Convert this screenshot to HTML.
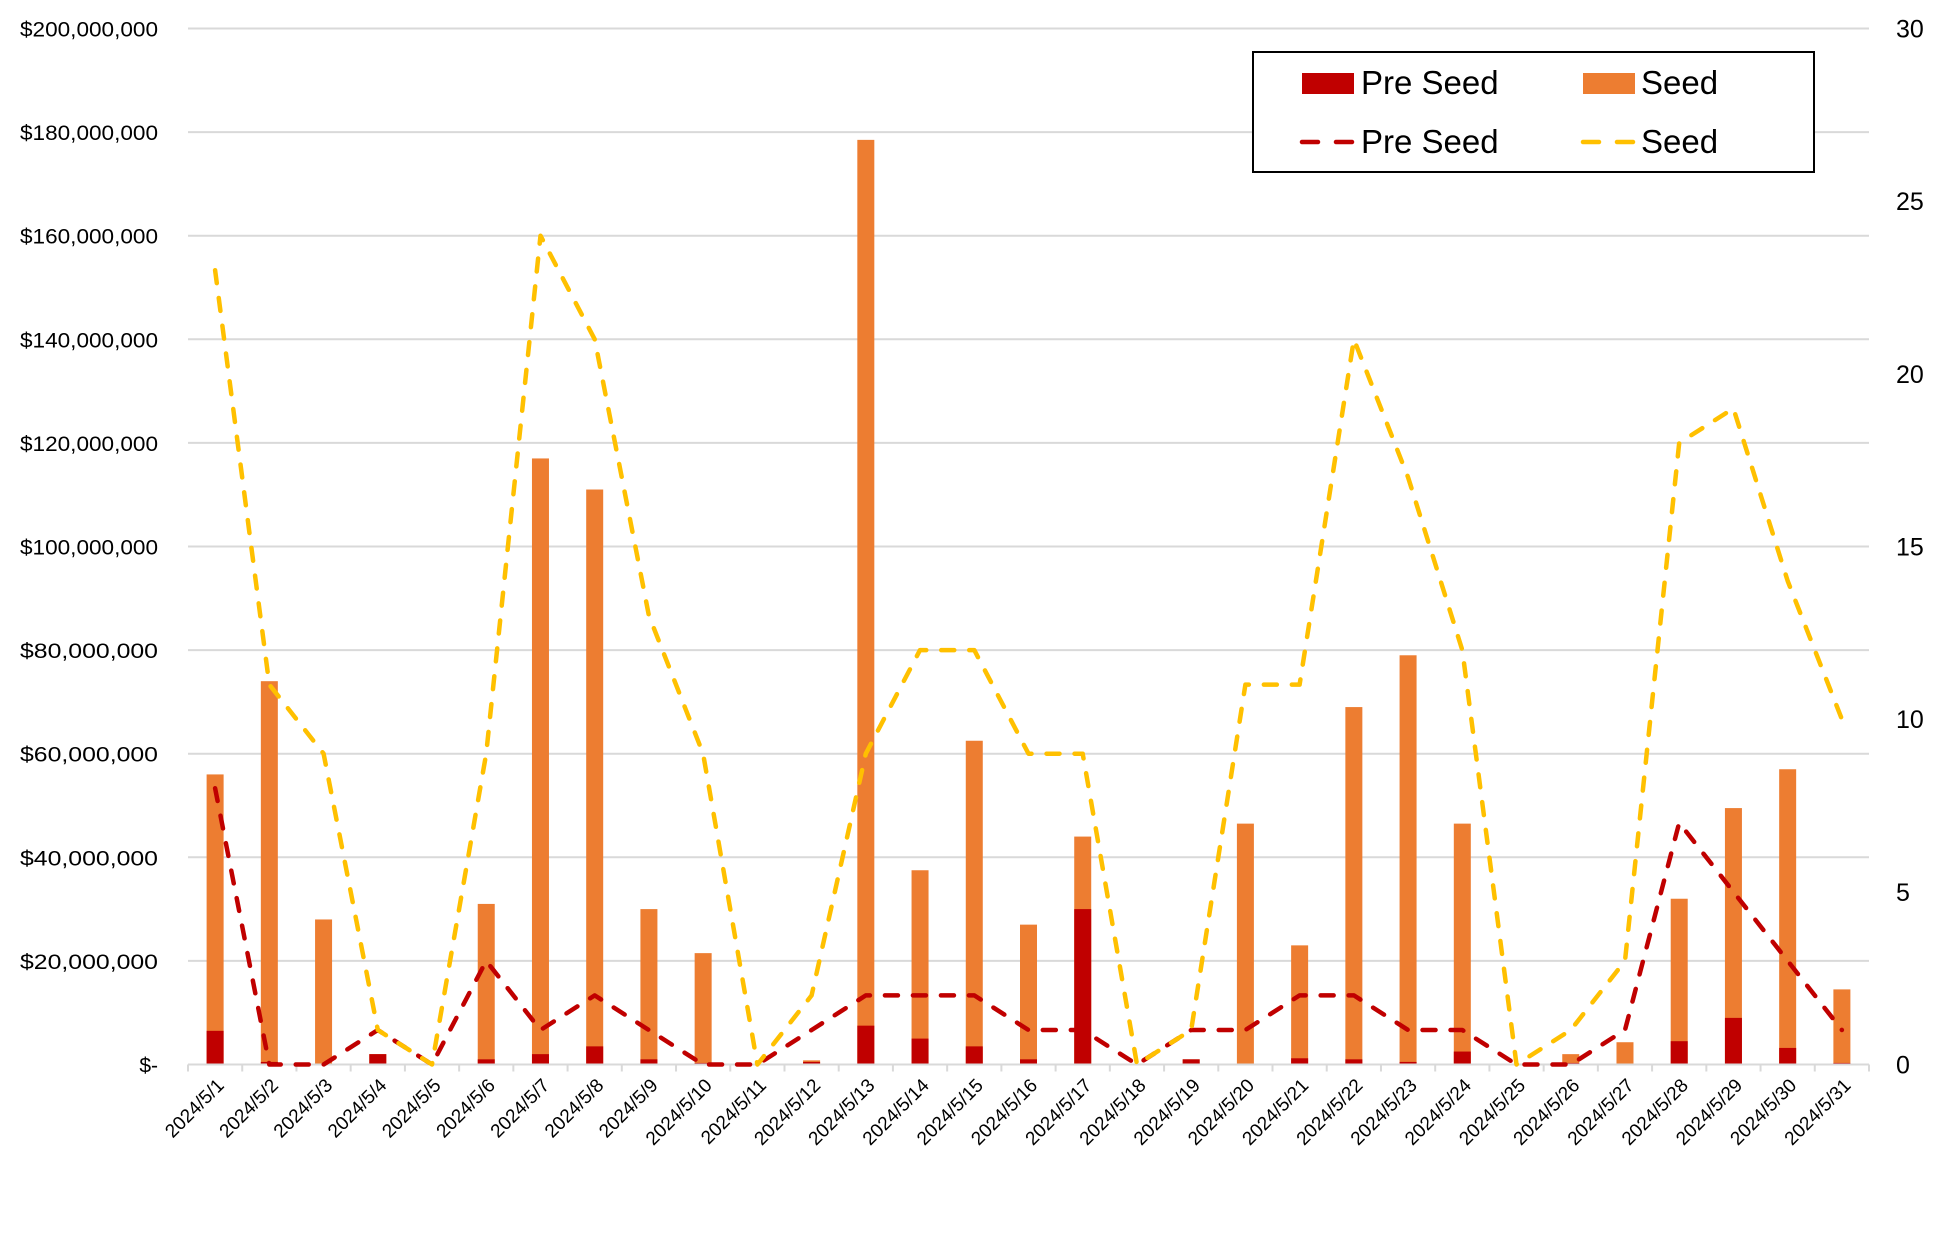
<!DOCTYPE html>
<html><head><meta charset="utf-8"><style>
html,body{margin:0;padding:0;background:#fff;}
svg{display:block;font-family:"Liberation Sans",sans-serif;}
</style></head><body>
<svg id="c" width="1939" height="1244" viewBox="0 0 1939 1244" xmlns="http://www.w3.org/2000/svg"></svg>
<script>
const svg=document.getElementById('c');
let s='';
const L=188,R=1869,T=28.5,B=1064.5,H=B-T,n=31,cw=(R-L)/n;
for(let i=0;i<=10;i++){const y=T+H*i/10;s+=`<line x1="${L}" y1="${y}" x2="${R}" y2="${y}" stroke="#d9d9d9" stroke-width="2"/>`;}
for(let i=0;i<=n;i++){const x=L+cw*i;s+=`<line x1="${x}" y1="${B}" x2="${x}" y2="${B+7}" stroke="#d9d9d9" stroke-width="2"/>`;}
for(let i=0;i<=10;i++){const v=200-20*i;const y=T+H*i/10+8;
 const t='$'+v.toString().replace(/\B(?=(\d{3})+(?!\d))/g,',')+',000,000';
 if(v==0) s+=`<text x="158" y="${y}" font-size="21" text-anchor="end">$-</text>`;
 else s+=`<text x="158" y="${y}" font-size="21" text-anchor="end" textLength="138" lengthAdjust="spacingAndGlyphs">${t}</text>`;}
for(let i=0;i<=6;i++){const v=30-5*i;const y=T+H*i/6+9;s+=`<text x="1896" y="${y}" font-size="25">${v}</text>`;}
const tot=[56,74,28,2,0,31,117,111,30,21.5,0,0.8,178.5,37.5,62.5,27,44,0,1,46.5,23,69,79,46.5,0,2,4.3,32,49.5,57,14.5];
const pre=[6.5,0.5,0,2,0,1,2,3.5,1,0.3,0,0.5,7.5,5,3.5,1,30,0,1,0,1.2,1,0.5,2.5,0,0.3,0,4.5,9,3.2,0.3];
const lp=[8,0,0,1,0,3,1,2,1,0,0,1,2,2,2,1,1,0,1,1,2,2,1,1,0,0,1,7,5,3,1];
const ls=[23,11,9,1,0,9,24,21,13,9,0,2,9,12,12,9,9,0,1,11,11,21,17,12,0,1,3,18,19,14,10];
const ym=v=>B-v/200*H, yr=v=>B-v/30*H;
for(let i=0;i<n;i++){const cx=L+cw*(i+0.5),x=cx-8.5;
 if(tot[i]>0) s+=`<rect x="${x}" y="${ym(tot[i])}" width="17" height="${B-ym(tot[i])-1}" fill="#ED7D31"/>`;
 if(pre[i]>0) s+=`<rect x="${x}" y="${ym(pre[i])}" width="17" height="${B-ym(pre[i])-1}" fill="#C00000"/>`;
 s+=`<text transform="translate(${cx+10},${B+22}) rotate(-45)" font-size="19" text-anchor="end">2024/5/${i+1}</text>`;}
const pl=a=>a.map((v,i)=>`${(L+cw*(i+0.5)).toFixed(1)},${yr(v).toFixed(1)}`).join(' ');
s+=`<polyline points="${pl(lp)}" fill="none" stroke="#C00000" stroke-width="4.5" stroke-dasharray="13 15" stroke-linecap="round" stroke-linejoin="round"/>`;
s+=`<polyline points="${pl(ls)}" fill="none" stroke="#FFC000" stroke-width="4.5" stroke-dasharray="13 15" stroke-linecap="round" stroke-linejoin="round"/>`;
s+=`<rect x="1253" y="52" width="561" height="120" fill="#fff" stroke="#000" stroke-width="2"/>`;
s+=`<rect x="1302" y="73" width="52" height="21" fill="#C00000"/><text x="1361" y="94" font-size="33">Pre Seed</text>`;
s+=`<rect x="1583" y="73" width="52" height="21" fill="#ED7D31"/><text x="1641" y="94" font-size="33">Seed</text>`;
s+=`<line x1="1302" y1="142" x2="1354" y2="142" stroke="#C00000" stroke-width="4.5" stroke-linecap="round" stroke-dasharray="16 18"/><text x="1361" y="153" font-size="33">Pre Seed</text>`;
s+=`<line x1="1583" y1="142" x2="1635" y2="142" stroke="#FFC000" stroke-width="4.5" stroke-linecap="round" stroke-dasharray="16 18"/><text x="1641" y="153" font-size="33">Seed</text>`;
svg.innerHTML=s;
</script>
</body></html>
